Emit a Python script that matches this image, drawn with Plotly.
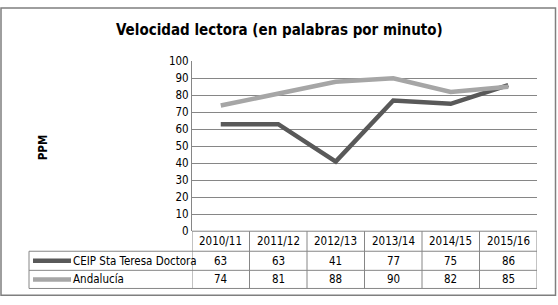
import plotly.graph_objects as go

categories = ["2010/11", "2011/12", "2012/13", "2013/14", "2014/15", "2015/16"]
series_names = ["CEIP Sta Teresa Doctora", "Andalucía"]
ceip_values = [63, 63, 41, 77, 75, 86]
andalucia_values = [74, 81, 88, 90, 82, 85]
y_ticks = [0, 10, 20, 30, 40, 50, 60, 70, 80, 90, 100]

W, H = 558, 305
FONT = "Liberation Sans Narrow, DejaVu Sans Condensed, Arial Narrow, Liberation Sans, Arial, sans-serif"
colors = ["#595959", "#a6a6a6"]
values = [ceip_values, andalucia_values]

def px(x):
    return x / W

def py(y):
    return 1 - y / H

plot_left, plot_right = 192, 537
plot_top, plot_bottom = 57, 235
table_left = 29
row_lines = [235, 256, 276, 295]

fig = go.Figure()
for name, vals, col in zip(series_names, values, colors):
    fig.add_trace(go.Scatter(x=list(range(len(categories))), y=vals, mode="lines",
                             name=name, line=dict(color=col, width=4.5),
                             showlegend=False, hoverinfo="skip"))

shapes = []
gc = "#868686"
shapes.append(dict(type="rect", xref="paper", yref="paper", x0=px(1), x1=px(555.5),
                   y0=py(302), y1=py(1), line=dict(color="#7f7f7f", width=1.5)))
shapes.append(dict(type="line", xref="paper", yref="paper", x0=px(plot_left), x1=px(plot_right),
                   y0=py(row_lines[0]), y1=py(row_lines[0]), line=dict(color=gc, width=1)))
for y in row_lines[1:]:
    shapes.append(dict(type="line", xref="paper", yref="paper", x0=px(table_left), x1=px(plot_right),
                       y0=py(y), y1=py(y), line=dict(color=gc, width=1)))
shapes.append(dict(type="line", xref="paper", yref="paper", x0=px(table_left), x1=px(table_left),
                   y0=py(row_lines[1]), y1=py(row_lines[3]), line=dict(color=gc, width=1)))
for i in range(len(categories) + 1):
    shapes.append(dict(type="line", xref="x", yref="paper", x0=i - 0.5, x1=i - 0.5,
                       y0=py(row_lines[3]), y1=py(row_lines[0]), line=dict(color=gc, width=1)))

annotations = []
row_centers = [(row_lines[0] + row_lines[1]) / 2, (row_lines[1] + row_lines[2]) / 2,
               (row_lines[2] + row_lines[3]) / 2]
tf = dict(family=FONT, size=11.5, color="#000")
for i, c in enumerate(categories):
    annotations.append(dict(x=i, xref="x", y=py(row_centers[0]), yref="paper", text=c,
                            xanchor="center", yanchor="middle", showarrow=False, font=tf))
for r, (name, vals, col) in enumerate(zip(series_names, values, colors)):
    yc = py(row_centers[r + 1])
    for i, v in enumerate(vals):
        annotations.append(dict(x=i, xref="x", y=yc, yref="paper", text=str(v),
                                xanchor="center", yanchor="middle", showarrow=False, font=tf))
    annotations.append(dict(x=px(71), xref="paper", y=yc, yref="paper", text=name,
                            xanchor="left", yanchor="middle", showarrow=False, font=tf))
    shapes.append(dict(type="line", xref="paper", yref="paper", x0=px(33), x1=px(71),
                       y0=yc, y1=yc, line=dict(color=col, width=4.5)))

annotations.append(dict(x=px(279), xref="paper", y=py(24), yref="paper",
                        text="<b>Velocidad lectora (en palabras por minuto)</b>", showarrow=False,
                        xanchor="center", yanchor="middle",
                        font=dict(family=FONT, size=15, color="#000")))
annotations.append(dict(x=px(43), xref="paper", y=py(148), yref="paper", text="<b>PPM</b>",
                        xanchor="center", yanchor="middle",
                        textangle=-90, showarrow=False, font=dict(family=FONT, size=11.5, color="#000")))

fig.update_layout(
    width=W, height=H, autosize=False, margin=dict(l=0, r=0, t=0, b=0, pad=0),
    paper_bgcolor="white", plot_bgcolor="white",
    xaxis=dict(domain=[px(plot_left), px(plot_right)], range=[-0.5, len(categories) - 0.5],
               showticklabels=False, showgrid=False, zeroline=False, fixedrange=True),
    yaxis=dict(domain=[py(plot_bottom), py(plot_top)], range=[0, 100], tickvals=y_ticks,
               showgrid=True, gridcolor=gc, gridwidth=1, zeroline=False,
               showline=True, linecolor=gc, linewidth=1, ticks="", ticklen=0,
               tickfont=tf, fixedrange=True),
    shapes=shapes, annotations=annotations,
)
post = ("document.documentElement.style.margin='0';document.documentElement.style.padding='0';"
        "document.documentElement.style.overflow='hidden';"
        "document.body.style.margin='0';document.body.style.padding='0';"
        "document.body.style.overflow='hidden';")
fig.write_html("out.html", config={"displayModeBar": False, "responsive": False},
               post_script=post)
